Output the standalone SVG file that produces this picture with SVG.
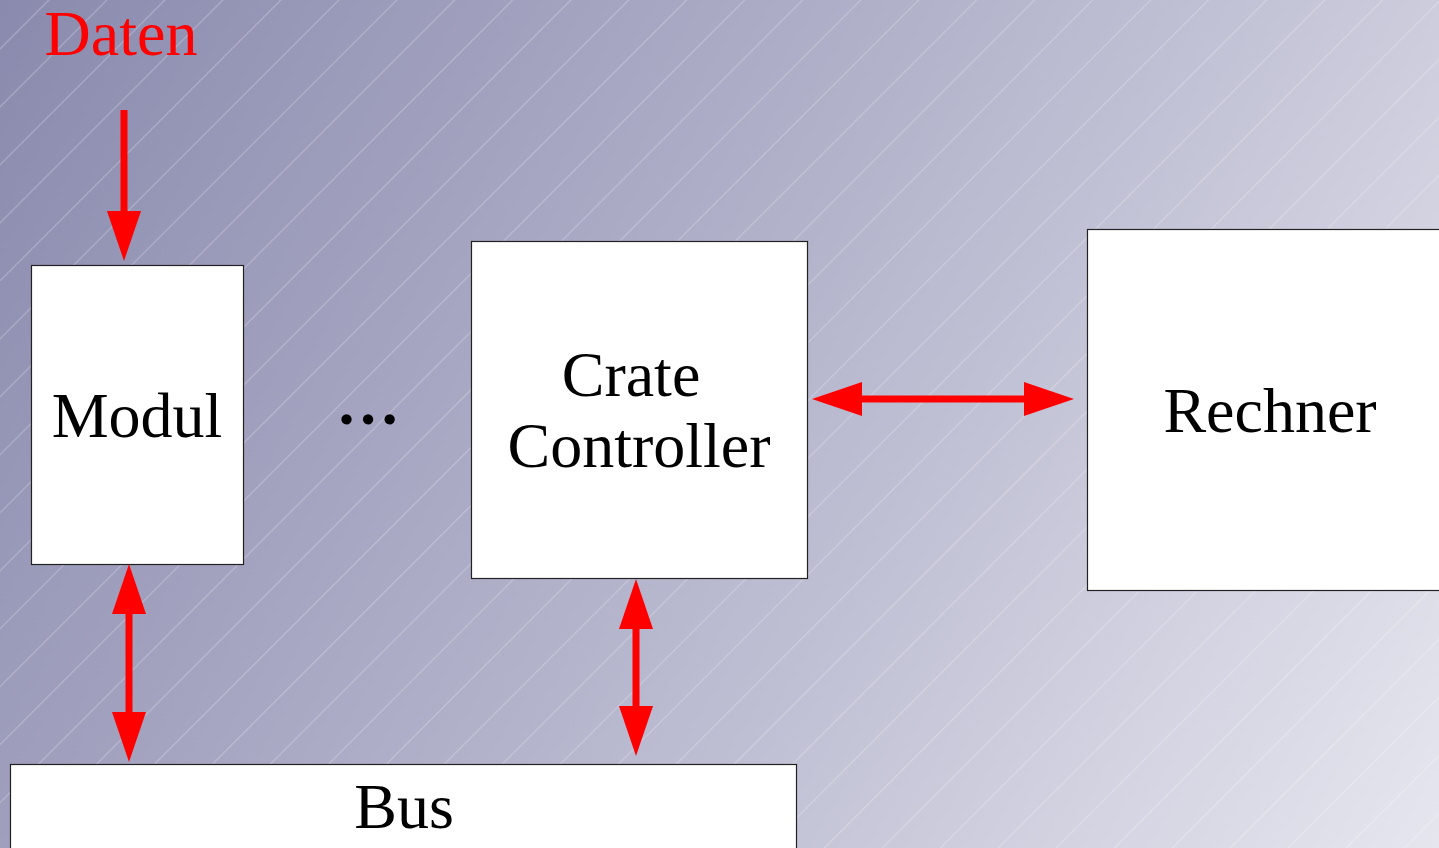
<svg xmlns="http://www.w3.org/2000/svg" width="1439" height="848" viewBox="0 0 1439 848">
  <defs>
    <linearGradient id="bg" gradientUnits="userSpaceOnUse" x1="0" y1="0" x2="1439" y2="848">
      <stop offset="0" stop-color="#8a8aae"/>
      <stop offset="0.5" stop-color="#b4b4cc"/>
      <stop offset="1" stop-color="#e6e6ef"/>
    </linearGradient>
    <pattern id="stripes" patternUnits="userSpaceOnUse" width="41" height="20" patternTransform="rotate(45)">
      <line x1="34.6" y1="0" x2="34.6" y2="20" stroke="#ffffff" stroke-opacity="0.3" stroke-width="1"/>
    </pattern>
    <marker id="head" markerUnits="userSpaceOnUse" markerWidth="50" markerHeight="34" refX="0" refY="17" orient="auto-start-reverse" viewBox="0 0 50 34">
      <path d="M0,0 L50,17 L0,34 z" fill="#ff0000"/>
    </marker>
    <style>
      .box { fill: #ffffff; stroke: #222222; stroke-width: 1.2; }
      .lbl { font-family: "Liberation Serif", "Times New Roman", serif; font-size: 64px; fill: #000000; text-anchor: middle; }
      .wire { stroke: #ff0000; stroke-width: 7; fill: none; }
    </style>
  </defs>

  <!-- background -->
  <rect x="0" y="0" width="1439" height="848" fill="url(#bg)"/>
  <rect x="0" y="0" width="1439" height="848" fill="url(#stripes)"/>

  <g id="daten">
    <text x="121" y="55" class="lbl" style="fill:#ff0000">Daten</text>
  </g>

  <g id="modul">
    <rect x="31.5" y="265.5" width="212" height="299" class="box"/>
    <text x="137" y="437" class="lbl">Modul</text>
  </g>

  <g id="ellipsis">
    <text x="368" y="424" class="lbl" font-weight="bold" font-size="72">…</text>
  </g>

  <g id="crate-controller">
    <rect x="471.5" y="241.5" width="336" height="337" class="box"/>
    <text x="631" y="396" class="lbl">Crate</text>
    <text x="639" y="467" class="lbl">Controller</text>
  </g>

  <g id="rechner">
    <rect x="1087.5" y="229.5" width="360" height="361" class="box"/>
    <text x="1270" y="432" class="lbl">Rechner</text>
  </g>

  <g id="bus">
    <rect x="10.5" y="764.5" width="786" height="100" class="box"/>
    <text x="404" y="828" class="lbl">Bus</text>
  </g>

  <g id="connectors">
    <line x1="124" y1="110" x2="124" y2="211" class="wire" marker-end="url(#head)"/>
    <line x1="129" y1="614" x2="129" y2="712" class="wire" marker-start="url(#head)" marker-end="url(#head)"/>
    <line x1="636" y1="629" x2="636" y2="706" class="wire" marker-start="url(#head)" marker-end="url(#head)"/>
    <line x1="862" y1="399" x2="1024" y2="399" class="wire" marker-start="url(#head)" marker-end="url(#head)"/>
  </g>
</svg>
